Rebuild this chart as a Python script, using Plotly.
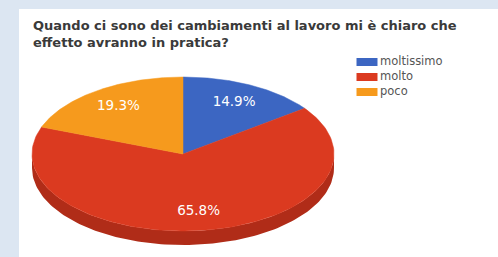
import numpy as np
import plotly.graph_objects as go

# ---- data ----
categories = ["moltissimo", "molto", "poco"]
percentages = [14.9, 65.8, 19.3]
title_lines = ["Quando ci sono dei cambiamenti al lavoro mi è chiaro che",
               "effetto avranno in pratica?"]

# ---- style ----
top_colors = ["#3c66c2", "#db3a20", "#f69a1d"]
side_colors = ["#2c4f9a", "#b02c18", "#c97a12"]
W, H = 498, 257
cx, cy, rx, ry, depth = 183, 154, 151, 77, 14
label_frac = 0.75

def pt(theta_deg, scale=1.0, dy=0.0):
    t = np.radians(theta_deg)
    return cx + rx * scale * np.sin(t), cy - ry * scale * np.cos(t) + dy

fig = go.Figure()

total = sum(percentages)
starts, ends = [], []
acc = 0.0
for v in percentages:
    starts.append(acc / total * 360)
    acc += v
    ends.append(acc / total * 360)

# side walls (front half: 90..270 degrees clockwise from top)
for i in range(len(percentages)):
    a = max(starts[i], 90.0)
    b = min(ends[i], 270.0)
    if b <= a:
        continue
    th = np.linspace(a, b, 120)
    xt, yt = pt(th)
    xb, yb = pt(th[::-1], dy=depth)
    fig.add_trace(go.Scatter(
        x=np.concatenate([xt, xb, xt[:1]]), y=np.concatenate([yt, yb, yt[:1]]),
        fill="toself", fillcolor=side_colors[i], mode="lines",
        line=dict(width=0, color=side_colors[i]), hoverinfo="skip", showlegend=False))

# top faces
for i, cat in enumerate(categories):
    th = np.linspace(starts[i], ends[i], 150)
    xa, ya = pt(th)
    fig.add_trace(go.Scatter(
        x=np.concatenate([[cx], xa, [cx]]), y=np.concatenate([[cy], ya, [cy]]),
        fill="toself", fillcolor=top_colors[i], mode="lines",
        line=dict(width=0.5, color=top_colors[i]), name=cat,
        hoverinfo="name", showlegend=False))

# slice labels
lx, ly = [], []
for i in range(len(percentages)):
    x, y = pt((starts[i] + ends[i]) / 2, scale=label_frac)
    lx.append(x)
    ly.append(y)
fig.add_trace(go.Scatter(
    x=lx, y=ly, mode="text", text=[f"{v:.1f}%" for v in percentages],
    textfont=dict(family="DejaVu Sans", size=13.5, color="white"),
    hoverinfo="skip", showlegend=False))

# legend (drawn on the axes)
leg_x0, leg_y0, leg_dy = 367, 62, 15
leg_y = [leg_y0 + leg_dy * i for i in range(len(categories))]
fig.add_trace(go.Scatter(
    x=[leg_x0] * len(categories), y=leg_y, mode="markers",
    marker=dict(symbol="line-ew", size=15, color=top_colors,
                line=dict(width=8, color=top_colors)),
    hoverinfo="skip", showlegend=False))
fig.add_trace(go.Scatter(
    x=[leg_x0 + 13] * len(categories), y=leg_y, mode="text", text=categories,
    textposition="middle right",
    textfont=dict(family="DejaVu Sans", size=11.5, color="#555555"),
    hoverinfo="skip", showlegend=False))

fig.update_layout(
    width=W, height=H,
    margin=dict(l=0, r=0, t=0, b=0),
    paper_bgcolor="#dce6f2", plot_bgcolor="rgba(0,0,0,0)",
    xaxis=dict(range=[0, W], visible=False, fixedrange=True),
    yaxis=dict(range=[H, 0], visible=False, fixedrange=True),
    shapes=[dict(type="rect", xref="x", yref="y", x0=19, x1=W, y0=9, y1=H,
                 fillcolor="white", line=dict(width=0), layer="below")],
    title=dict(text="<b>" + "<br>".join(title_lines) + "</b>",
               x=33 / W, xanchor="left", y=1 - 30 / H, yanchor="top",
               font=dict(family="DejaVu Sans", size=13, color="#3a3a3a")),
    showlegend=False,
)

fig.write_html("out.html", config={"displayModeBar": False},
               post_script="document.body.style.margin='0px';")
